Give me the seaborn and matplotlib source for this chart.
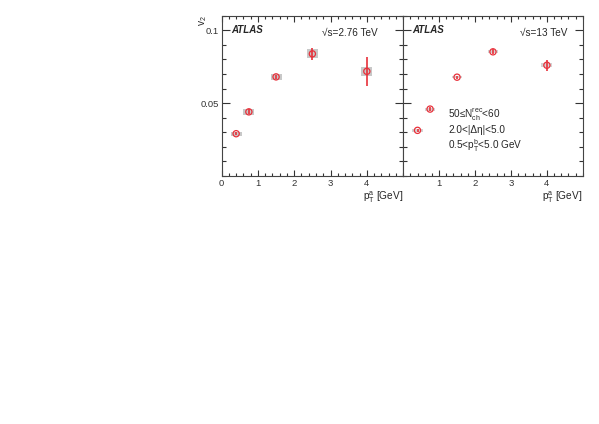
import numpy as np
import pandas as pd
import matplotlib
matplotlib.use("Agg")
import matplotlib.pyplot as plt
import seaborn as sns
from matplotlib.ticker import MultipleLocator

# datos
pt_a = [0.4, 0.75, 1.5, 2.5, 4.0]

v2_276 = [0.029, 0.044, 0.068, 0.0838, 0.0718]
stat_276 = [0.001, 0.0018, 0.0015, 0.004, 0.0098]
sys_276 = [0.0013, 0.002, 0.0023, 0.003, 0.003]

v2_13 = [0.0313, 0.0459, 0.0678, 0.0852, 0.0760]
stat_13 = [0.0012, 0.0012, 0.001, 0.0018, 0.0037]
sys_13 = [0.0009, 0.001, 0.0009, 0.0011, 0.0012]

energias = ["2.76 TeV", "13 TeV"]

sns.set_style("ticks")
plt.rcParams["font.family"] = ["Liberation Sans", "DejaVu Sans"]
plt.rcParams["mathtext.fontset"] = "custom"
plt.rcParams["mathtext.rm"] = "Liberation Sans"
plt.rcParams["mathtext.it"] = "Liberation Sans:italic"
plt.rcParams["mathtext.bf"] = "Liberation Sans:bold"

rojo = "#e8303a"

fig = plt.figure(figsize=(5.99, 4.24), dpi=100)
ax1 = fig.add_axes([0.370, 0.585, 0.303, 0.378])
ax2 = fig.add_axes([0.673, 0.585, 0.300, 0.378], sharey=ax1)

conjuntos = [(ax1, v2_276, stat_276, sys_276, "#c8c8c8"),
             (ax2, v2_13, stat_13, sys_13, "#d4d4d4")]
for ax, v2, stat, sys_, gris in conjuntos:
    df = pd.DataFrame({"pt": pt_a, "v2": v2, "stat": stat, "sys": sys_})
    ax.bar(df["pt"], 2 * df["sys"], bottom=df["v2"] - df["sys"], width=0.3,
           color=gris, edgecolor="none", zorder=1)
    ax.errorbar(df["pt"], df["v2"], yerr=df["stat"], fmt="none",
                ecolor=rojo, elinewidth=1.2, capsize=0, zorder=2)
    sns.scatterplot(data=df, x="pt", y="v2", ax=ax, marker="o", s=20,
                    facecolor="none", edgecolor=rojo, linewidth=0.9,
                    zorder=3)
    ax.set_xlim(0, 5)
    ax.set_ylim(0, 0.11)
    ax.xaxis.set_major_locator(MultipleLocator(1))
    ax.xaxis.set_minor_locator(MultipleLocator(0.2))
    ax.yaxis.set_minor_locator(MultipleLocator(0.01))
    ax.tick_params(which="both", direction="in", top=True, right=True,
                   labelsize=6.8, width=0.8, pad=2, colors="#333333")
    ax.tick_params(axis="x", which="major", length=4)
    ax.tick_params(axis="x", which="minor", length=2)
    ax.tick_params(axis="y", which="major", length=6)
    ax.tick_params(axis="y", which="minor", length=3)
    for s in ax.spines.values():
        s.set_linewidth(0.8)
        s.set_color("#444444")
    ax.set_xlabel("")
    ax.set_ylabel("")
    ax.text(0.05, 0.91, "ATLAS", transform=ax.transAxes, fontsize=7,
            fontweight="bold", fontstyle="italic", va="center")
    ax.text(1.0, -0.085, "p$_{\\mathrm{T}}^{\\mathrm{a}}$ [GeV]",
            transform=ax.transAxes, fontsize=7.3, ha="right", va="top")

ax1.set_yticks([0.05, 0.1])
ax1.set_yticklabels(["0.05", "0.1"])
ax1.set_xticks([0, 1, 2, 3, 4])
ax1.set_xticklabels(["0", "1", "2", "3", "4"])
ax2.set_xticks([1, 2, 3, 4])
ax2.set_xticklabels(["1", "2", "3", "4"])
ax2.tick_params(labelleft=False)

ax1.text(-0.1, 1.0, "v$_2$", transform=ax1.transAxes, fontsize=7.3,
         rotation=90, ha="center", va="top")

ax1.text(0.555, 0.89, "\u221as=" + energias[0], transform=ax1.transAxes,
         fontsize=7.2, va="center")
ax2.text(0.65, 0.89, "\u221as=" + energias[1], transform=ax2.transAxes,
         fontsize=7.2, va="center")

ax2.text(0.25, 0.38, "50\u2264N$_{\\mathrm{ch}}^{\\mathrm{rec}}$<60",
         transform=ax2.transAxes, fontsize=7.2, va="center")
ax2.text(0.25, 0.285, "2.0<|\u0394\u03b7|<5.0", transform=ax2.transAxes,
         fontsize=7.2, va="center")
ax2.text(0.25, 0.19, "0.5<p$_{\\mathrm{T}}^{\\mathrm{b}}$<5.0 GeV",
         transform=ax2.transAxes, fontsize=7.2, va="center")

fig.savefig("out.png", dpi=100)
